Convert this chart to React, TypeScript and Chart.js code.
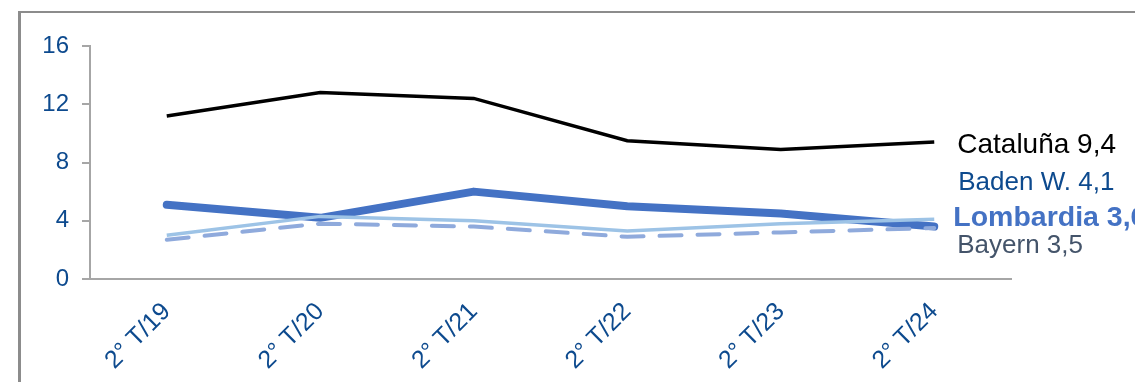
import React, { useEffect, useRef } from "react";
import { Chart, registerables } from "chart.js";

Chart.register(...registerables);

const categories = ["2° T/19", "2° T/20", "2° T/21", "2° T/22", "2° T/23", "2° T/24"];
const cataluna = [11.2, 12.8, 12.4, 9.5, 8.9, 9.4];
const lombardia = [5.1, 4.2, 6.0, 5.0, 4.5, 3.6];
const badenW = [3.0, 4.3, 4.0, 3.3, 3.8, 4.1];
const bayern = [2.7, 3.8, 3.6, 2.9, 3.2, 3.5];
const yTicks = [0, 4, 8, 12, 16];
const endLabelTexts = ["Cataluña 9,4", "Baden W. 4,1", "Lombardia 3,6", "Bayern 3,5"];

const FONT = "'Liberation Sans', Arial, sans-serif";
const TICK_BLUE = "#0D4A8E";
const AXIS_GREY = "#A6A6A6";

const endLabelStyles = [
  { color: "#000000", size: 28, weight: "normal", dx: 23, dy: 99 },
  { color: TICK_BLUE, size: 26, weight: "normal", dx: 24, dy: 137 },
  { color: "#4472C4", size: 28.5, weight: "bold", dx: 19, dy: 172 },
  { color: "#44546A", size: 26, weight: "normal", dx: 23, dy: 200 },
];

const endLabelsPlugin = {
  id: "endLabels",
  afterDatasetsDraw(chart: any) {
    const ctx = chart.ctx;
    const xScale = chart.scales.x;
    const lastX = xScale.getPixelForValue(categories.length - 1);
    const top = chart.chartArea.top;
    ctx.save();
    ctx.textBaseline = "middle";
    ctx.textAlign = "left";
    endLabelTexts.forEach((t, i) => {
      const s = endLabelStyles[i];
      ctx.font = `${s.weight} ${s.size}px ${FONT}`;
      ctx.fillStyle = s.color;
      ctx.fillText(t, lastX + s.dx, top + s.dy);
    });
    ctx.restore();
  },
};

export default function App() {
  const ref = useRef<HTMLCanvasElement | null>(null);

  useEffect(() => {
    if (!ref.current) return;
    const chart = new Chart(ref.current, {
      type: "line",
      data: {
        labels: categories,
        datasets: [
          {
            label: "Cataluña",
            data: cataluna,
            borderColor: "#000000",
            borderWidth: 3.5,
            pointRadius: 0,
            tension: 0,
            order: 0,
          },
          {
            label: "Bayern",
            data: bayern,
            borderColor: "#8FAADC",
            borderWidth: 4,
            borderDash: [22, 16],
            borderCapStyle: "round",
            pointRadius: 0,
            tension: 0,
            order: 1,
          },
          {
            label: "Baden W.",
            data: badenW,
            borderColor: "#9DC3E6",
            borderWidth: 3.5,
            pointRadius: 0,
            tension: 0,
            order: 2,
          },
          {
            label: "Lombardia",
            data: lombardia,
            borderColor: "#4472C4",
            borderWidth: 8,
            borderCapStyle: "round",
            borderJoinStyle: "round",
            pointRadius: 0,
            tension: 0,
            order: 3,
          },
        ],
      },
      options: {
        responsive: false,
        animation: false,
        layout: { padding: { left: 0, right: 124, top: 46, bottom: 0 } },
        plugins: {
          legend: { display: false },
          tooltip: { enabled: false },
          title: { display: false },
        },
        scales: {
          x: {
            offset: true,
            grid: { display: true, drawOnChartArea: false, drawTicks: false, color: AXIS_GREY },
            border: { display: true, color: AXIS_GREY, width: 2 },
            ticks: {
              autoSkip: false,
              minRotation: 45,
              maxRotation: 45,
              padding: 18,
              color: TICK_BLUE,
              font: { family: FONT, size: 25 },
            },
            afterFit: (scale: any) => {
              scale.height = 103;
            },
          },
          y: {
            min: 0,
            max: 16,
            afterBuildTicks: (scale: any) => {
              scale.ticks = yTicks.map((v) => ({ value: v }));
            },
            grid: {
              display: true,
              drawOnChartArea: false,
              drawTicks: true,
              tickLength: 8,
              color: AXIS_GREY,
              lineWidth: 2,
            },
            border: { display: true, color: AXIS_GREY, width: 2 },
            ticks: {
              padding: 13,
              color: TICK_BLUE,
              font: { family: FONT, size: 24 },
            },
            afterFit: (scale: any) => {
              scale.width = 90;
            },
          },
        },
      },
      plugins: [endLabelsPlugin],
    });
    return () => chart.destroy();
  }, []);

  return (
    <div
      style={{
        position: "absolute",
        left: 0,
        top: 0,
        width: 1135,
        height: 382,
        overflow: "hidden",
        background: "#ffffff",
      }}
    >
      <div
        style={{
          position: "absolute",
          left: 18,
          top: 11,
          width: 1200,
          height: 400,
          borderTop: "2px solid #8C8C8C",
          borderLeft: "3px solid #8C8C8C",
        }}
      />
      <canvas
        ref={ref}
        width={1135}
        height={382}
        style={{ position: "absolute", left: 0, top: 0, width: 1135, height: 382 }}
      />
    </div>
  );
}
